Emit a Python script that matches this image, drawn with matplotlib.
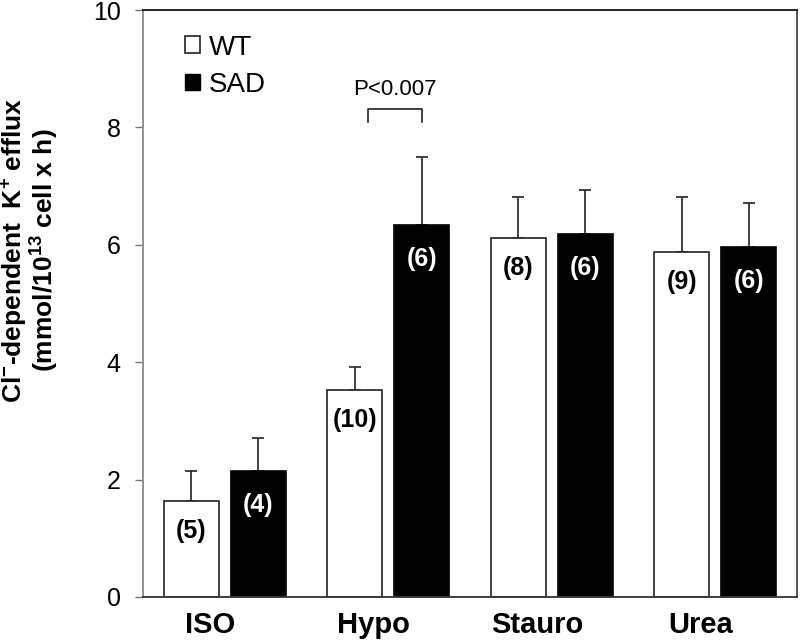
import matplotlib
matplotlib.use("Agg")
import matplotlib.pyplot as plt
import numpy as np
from matplotlib.patches import Patch

plt.rcParams["font.family"] = ["Liberation Sans", "DejaVu Sans"]
plt.rcParams["mathtext.fontset"] = "custom"
plt.rcParams["mathtext.rm"] = "Liberation Sans:bold"
plt.rcParams["mathtext.it"] = "Liberation Sans:bold"
plt.rcParams["mathtext.bf"] = "Liberation Sans:bold"

categories = ["ISO", "Hypo", "Stauro", "Urea"]
wt_mean = [1.63, 3.52, 6.11, 5.87]
wt_err = [0.52, 0.39, 0.71, 0.95]
sad_mean = [2.14, 6.33, 6.18, 5.97]
sad_err = [0.57, 1.16, 0.75, 0.74]
wt_n = ["(5)", "(10)", "(8)", "(9)"]
sad_n = ["(4)", "(6)", "(6)", "(6)"]


def main() -> None:
    fig = plt.figure(figsize=(8, 6.4), dpi=100)
    ax = fig.add_axes([143 / 800, 43 / 640, 654 / 800, 587 / 640])

    x = np.arange(len(categories))
    width = 0.336
    off = 0.205

    ax.bar(x - off, wt_mean, width, color="white", edgecolor="#222222", linewidth=1.2, zorder=2)
    ax.bar(x + off, sad_mean, width, color="black", edgecolor="black", linewidth=1.2, zorder=2)
    ax.errorbar(x - off, wt_mean, yerr=[np.zeros(len(wt_err)), wt_err], fmt="none",
                ecolor="#222222", elinewidth=1.2, capsize=4, capthick=1.2, zorder=1)
    ax.errorbar(x + off, sad_mean, yerr=[np.zeros(len(sad_err)), sad_err], fmt="none",
                ecolor="#222222", elinewidth=1.2, capsize=4, capthick=1.2, zorder=1)

    for xi, m, n in zip(x - off, wt_mean, wt_n):
        ax.text(xi, m - 0.5, n, ha="center", va="center", fontsize=18, fontweight="bold", color="black", zorder=3)
    for xi, m, n in zip(x + off, sad_mean, sad_n):
        ax.text(xi, m - 0.58, n, ha="center", va="center", fontsize=18, fontweight="bold", color="white", zorder=3)

    # significance bracket over Hypo
    ax.plot([1 - 0.125, 1 - 0.125, 1 + off, 1 + off], [8.10, 8.31, 8.31, 8.10], color="#222222", lw=1.2)
    ax.text(1 + 0.04, 8.55, "P<0.007", ha="center", va="baseline", fontsize=16)

    ax.set_xlim(-0.5, 3.5)
    ax.set_ylim(0, 10)
    ax.set_yticks([0, 2, 4, 6, 8, 10])
    ax.set_xticks(x - 0.09)
    ax.set_xticklabels(categories, fontsize=21, fontweight="bold")
    ax.tick_params(axis="x", length=0, pad=10)
    ax.tick_params(axis="y", labelsize=18, length=6, width=1, color="#777777", pad=10)

    ax.spines["left"].set_color("#888888")
    ax.spines["bottom"].set_color("#333333")
    ax.spines["top"].set_color("#111111")
    ax.spines["right"].set_color("#444444")
    for s in ax.spines.values():
        s.set_linewidth(1.3)

    ax.set_ylabel("Cl$^{-}$-dependent  K$^{+}$ efflux\n(mmol/10$^{13}$ cell x h)",
                  fontsize=19, fontweight="bold", linespacing=1.0, va="center")
    ax.yaxis.set_label_coords(-0.172, 0.591)

    handles = [Patch(facecolor="white", edgecolor="#222222", linewidth=1.2, label="WT"),
               Patch(facecolor="black", edgecolor="black", label="SAD")]
    ax.legend(handles=handles, loc="upper left", bbox_to_anchor=(0.064, 0.958), frameon=False,
              fontsize=20, handlelength=0.55, handleheight=0.55, handletextpad=0.3,
              labelspacing=0.4, borderpad=0, borderaxespad=0)

    fig.savefig("out.png", dpi=100)
    plt.close(fig)


if __name__ == "__main__":
    main()
